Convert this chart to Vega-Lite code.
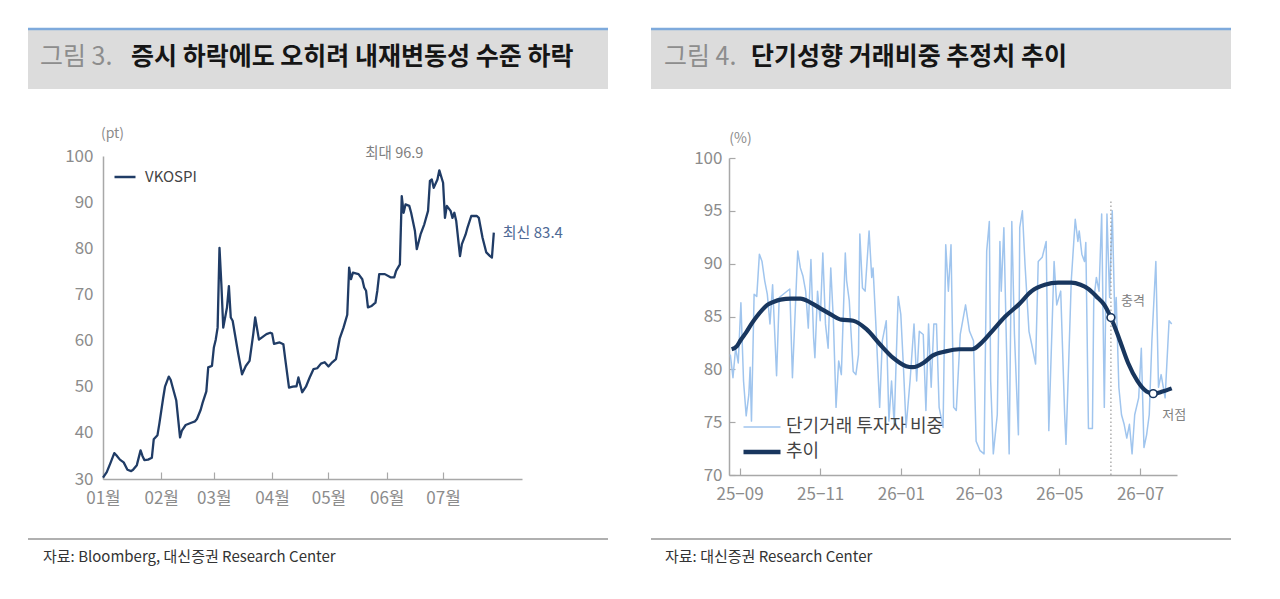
{
  "$schema": "https://vega.github.io/schema/vega-lite/v6.json",
  "background": "white",
  "padding": {"left": 26, "top": 27, "right": 5, "bottom": 5},
  "config": {
    "font": "Noto Sans CJK KR",
    "view": {"stroke": null},
    "axis": {"grid": false},
    "legend": {"padding": 0}
  },
  "datasets": {
    "vkospi": [
      {"d": "2026-01-01", "v": 30.3}, {"d": "2026-01-03", "v": 31.5}, {"d": "2026-01-05", "v": 33.5}, {"d": "2026-01-07", "v": 35.6},
      {"d": "2026-01-08", "v": 35.2}, {"d": "2026-01-10", "v": 34.2}, {"d": "2026-01-12", "v": 33.6}, {"d": "2026-01-14", "v": 32.0},
      {"d": "2026-01-16", "v": 31.7}, {"d": "2026-01-17", "v": 32.0}, {"d": "2026-01-19", "v": 33.0}, {"d": "2026-01-21", "v": 36.2},
      {"d": "2026-01-22", "v": 35.0}, {"d": "2026-01-23", "v": 34.1}, {"d": "2026-01-25", "v": 34.2}, {"d": "2026-01-27", "v": 34.6},
      {"d": "2026-01-28", "v": 38.6}, {"d": "2026-01-30", "v": 39.5}, {"d": "2026-01-31", "v": 42.0}, {"d": "2026-02-02", "v": 47.5},
      {"d": "2026-02-03", "v": 50.0}, {"d": "2026-02-05", "v": 52.2}, {"d": "2026-02-06", "v": 51.5}, {"d": "2026-02-07", "v": 50.0},
      {"d": "2026-02-09", "v": 47.0}, {"d": "2026-02-11", "v": 39.0}, {"d": "2026-02-12", "v": 40.5}, {"d": "2026-02-14", "v": 41.7},
      {"d": "2026-02-17", "v": 42.2}, {"d": "2026-02-19", "v": 42.5}, {"d": "2026-02-20", "v": 43.0}, {"d": "2026-02-22", "v": 45.0},
      {"d": "2026-02-23", "v": 46.5}, {"d": "2026-02-25", "v": 49.0}, {"d": "2026-02-26", "v": 54.2}, {"d": "2026-02-28", "v": 54.5},
      {"d": "2026-03-01", "v": 58.5}, {"d": "2026-03-02", "v": 60.2}, {"d": "2026-03-03", "v": 62.8}, {"d": "2026-03-04", "v": 80.1},
      {"d": "2026-03-05", "v": 72.2}, {"d": "2026-03-06", "v": 62.8}, {"d": "2026-03-08", "v": 67.2}, {"d": "2026-03-09", "v": 71.8},
      {"d": "2026-03-10", "v": 65.0}, {"d": "2026-03-11", "v": 64.3}, {"d": "2026-03-14", "v": 57.1}, {"d": "2026-03-16", "v": 52.7},
      {"d": "2026-03-18", "v": 54.5}, {"d": "2026-03-20", "v": 55.6}, {"d": "2026-03-22", "v": 61.5}, {"d": "2026-03-23", "v": 65.0},
      {"d": "2026-03-25", "v": 60.2}, {"d": "2026-03-27", "v": 60.8}, {"d": "2026-03-29", "v": 61.4}, {"d": "2026-03-31", "v": 61.7},
      {"d": "2026-04-01", "v": 61.5}, {"d": "2026-04-02", "v": 59.3}, {"d": "2026-04-05", "v": 59.6}, {"d": "2026-04-07", "v": 59.2},
      {"d": "2026-04-08", "v": 56.0}, {"d": "2026-04-10", "v": 49.8}, {"d": "2026-04-12", "v": 50.0}, {"d": "2026-04-14", "v": 50.1},
      {"d": "2026-04-15", "v": 52.0}, {"d": "2026-04-17", "v": 48.8}, {"d": "2026-04-19", "v": 50.0}, {"d": "2026-04-21", "v": 52.0},
      {"d": "2026-04-23", "v": 53.8}, {"d": "2026-04-25", "v": 54.0}, {"d": "2026-04-27", "v": 55.0}, {"d": "2026-04-29", "v": 55.3},
      {"d": "2026-05-01", "v": 54.4}, {"d": "2026-05-03", "v": 55.3}, {"d": "2026-05-05", "v": 56.0}, {"d": "2026-05-07", "v": 60.5},
      {"d": "2026-05-09", "v": 62.8}, {"d": "2026-05-11", "v": 65.6}, {"d": "2026-05-12", "v": 75.8}, {"d": "2026-05-13", "v": 73.3},
      {"d": "2026-05-14", "v": 74.7}, {"d": "2026-05-17", "v": 74.4}, {"d": "2026-05-19", "v": 73.3}, {"d": "2026-05-20", "v": 71.5},
      {"d": "2026-05-21", "v": 70.8}, {"d": "2026-05-22", "v": 67.2}, {"d": "2026-05-24", "v": 67.5}, {"d": "2026-05-26", "v": 68.2},
      {"d": "2026-05-27", "v": 70.8}, {"d": "2026-05-28", "v": 74.4}, {"d": "2026-05-31", "v": 74.4}, {"d": "2026-06-03", "v": 73.7},
      {"d": "2026-06-05", "v": 73.7}, {"d": "2026-06-06", "v": 75.1}, {"d": "2026-06-08", "v": 76.5}, {"d": "2026-06-09", "v": 91.3},
      {"d": "2026-06-10", "v": 87.7}, {"d": "2026-06-11", "v": 89.5}, {"d": "2026-06-13", "v": 89.2}, {"d": "2026-06-14", "v": 87.7},
      {"d": "2026-06-16", "v": 83.8}, {"d": "2026-06-17", "v": 79.8}, {"d": "2026-06-19", "v": 83.0}, {"d": "2026-06-21", "v": 85.2},
      {"d": "2026-06-23", "v": 88.1}, {"d": "2026-06-24", "v": 94.6}, {"d": "2026-06-25", "v": 94.9}, {"d": "2026-06-26", "v": 93.1},
      {"d": "2026-06-28", "v": 94.9}, {"d": "2026-06-29", "v": 96.9}, {"d": "2026-07-01", "v": 94.2}, {"d": "2026-07-02", "v": 86.6},
      {"d": "2026-07-03", "v": 89.2}, {"d": "2026-07-05", "v": 88.1}, {"d": "2026-07-06", "v": 86.6}, {"d": "2026-07-07", "v": 87.7},
      {"d": "2026-07-08", "v": 85.9}, {"d": "2026-07-10", "v": 78.3}, {"d": "2026-07-11", "v": 80.9}, {"d": "2026-07-13", "v": 83.0},
      {"d": "2026-07-14", "v": 84.5}, {"d": "2026-07-16", "v": 87.0}, {"d": "2026-07-19", "v": 87.0}, {"d": "2026-07-20", "v": 86.6},
      {"d": "2026-07-22", "v": 82.3}, {"d": "2026-07-24", "v": 79.1}, {"d": "2026-07-26", "v": 78.3}, {"d": "2026-07-27", "v": 78.0},
      {"d": "2026-07-28", "v": 83.4}
    ],
    "ratio": [
      {"d": "2025-08-25", "v": 81.4}, {"d": "2025-08-27", "v": 79.2}, {"d": "2025-08-29", "v": 82.0}, {"d": "2025-08-31", "v": 80.6},
      {"d": "2025-09-02", "v": 86.3}, {"d": "2025-09-04", "v": 78.9}, {"d": "2025-09-06", "v": 75.6}, {"d": "2025-09-08", "v": 77.6},
      {"d": "2025-09-09", "v": 80.2}, {"d": "2025-09-10", "v": 75.1}, {"d": "2025-09-12", "v": 87.1}, {"d": "2025-09-14", "v": 86.9},
      {"d": "2025-09-16", "v": 90.9}, {"d": "2025-09-18", "v": 90.2}, {"d": "2025-09-20", "v": 88.4}, {"d": "2025-09-22", "v": 87.1},
      {"d": "2025-09-24", "v": 84.3}, {"d": "2025-09-26", "v": 88.0}, {"d": "2025-09-29", "v": 79.4}, {"d": "2025-10-01", "v": 86.8},
      {"d": "2025-10-05", "v": 87.2}, {"d": "2025-10-09", "v": 87.6}, {"d": "2025-10-11", "v": 79.2}, {"d": "2025-10-15", "v": 91.2},
      {"d": "2025-10-17", "v": 89.6}, {"d": "2025-10-19", "v": 88.8}, {"d": "2025-10-21", "v": 87.4}, {"d": "2025-10-23", "v": 83.9},
      {"d": "2025-10-25", "v": 90.4}, {"d": "2025-10-27", "v": 83.0}, {"d": "2025-10-28", "v": 81.1}, {"d": "2025-10-30", "v": 87.4},
      {"d": "2025-11-01", "v": 84.6}, {"d": "2025-11-03", "v": 91.0}, {"d": "2025-11-05", "v": 84.3}, {"d": "2025-11-07", "v": 82.0},
      {"d": "2025-11-09", "v": 89.6}, {"d": "2025-11-11", "v": 84.6}, {"d": "2025-11-13", "v": 76.4}, {"d": "2025-11-15", "v": 80.8},
      {"d": "2025-11-17", "v": 79.5}, {"d": "2025-11-20", "v": 91.0}, {"d": "2025-11-21", "v": 88.4}, {"d": "2025-11-23", "v": 86.5},
      {"d": "2025-11-26", "v": 79.8}, {"d": "2025-11-28", "v": 79.5}, {"d": "2025-11-30", "v": 81.4}, {"d": "2025-12-01", "v": 92.8},
      {"d": "2025-12-03", "v": 87.7}, {"d": "2025-12-05", "v": 87.4}, {"d": "2025-12-08", "v": 93.1}, {"d": "2025-12-10", "v": 88.7},
      {"d": "2025-12-11", "v": 89.6}, {"d": "2025-12-13", "v": 84.6}, {"d": "2025-12-16", "v": 76.4}, {"d": "2025-12-18", "v": 82.7},
      {"d": "2025-12-21", "v": 84.6}, {"d": "2025-12-23", "v": 75.1}, {"d": "2025-12-25", "v": 78.9}, {"d": "2025-12-27", "v": 74.8},
      {"d": "2025-12-30", "v": 86.9}, {"d": "2026-01-01", "v": 85.2}, {"d": "2026-01-03", "v": 80.2}, {"d": "2026-01-05", "v": 74.5},
      {"d": "2026-01-08", "v": 78.9}, {"d": "2026-01-11", "v": 84.3}, {"d": "2026-01-13", "v": 78.9}, {"d": "2026-01-15", "v": 83.6},
      {"d": "2026-01-18", "v": 83.3}, {"d": "2026-01-20", "v": 76.1}, {"d": "2026-01-22", "v": 84.3}, {"d": "2026-01-24", "v": 78.3},
      {"d": "2026-01-26", "v": 84.3}, {"d": "2026-01-28", "v": 84.3}, {"d": "2026-01-30", "v": 76.4}, {"d": "2026-02-02", "v": 74.5},
      {"d": "2026-02-04", "v": 91.8}, {"d": "2026-02-06", "v": 87.4}, {"d": "2026-02-08", "v": 91.8}, {"d": "2026-02-10", "v": 76.4},
      {"d": "2026-02-12", "v": 76.1}, {"d": "2026-02-15", "v": 83.3}, {"d": "2026-02-19", "v": 86.1}, {"d": "2026-02-22", "v": 83.6},
      {"d": "2026-02-25", "v": 82.7}, {"d": "2026-02-27", "v": 73.2}, {"d": "2026-03-02", "v": 72.3}, {"d": "2026-03-05", "v": 72.0},
      {"d": "2026-03-07", "v": 91.2}, {"d": "2026-03-09", "v": 94.0}, {"d": "2026-03-10", "v": 78.9}, {"d": "2026-03-12", "v": 72.0},
      {"d": "2026-03-15", "v": 75.7}, {"d": "2026-03-17", "v": 92.1}, {"d": "2026-03-18", "v": 87.4}, {"d": "2026-03-20", "v": 93.4},
      {"d": "2026-03-22", "v": 82.0}, {"d": "2026-03-24", "v": 72.0}, {"d": "2026-03-26", "v": 94.0}, {"d": "2026-03-28", "v": 83.3},
      {"d": "2026-03-31", "v": 73.8}, {"d": "2026-04-01", "v": 93.4}, {"d": "2026-04-03", "v": 95.0}, {"d": "2026-04-05", "v": 89.9},
      {"d": "2026-04-08", "v": 83.6}, {"d": "2026-04-10", "v": 82.4}, {"d": "2026-04-13", "v": 80.5}, {"d": "2026-04-15", "v": 90.2},
      {"d": "2026-04-18", "v": 90.6}, {"d": "2026-04-21", "v": 92.1}, {"d": "2026-04-23", "v": 74.2}, {"d": "2026-04-27", "v": 90.2},
      {"d": "2026-04-29", "v": 86.1}, {"d": "2026-05-02", "v": 87.4}, {"d": "2026-05-05", "v": 75.7}, {"d": "2026-05-06", "v": 72.9},
      {"d": "2026-05-08", "v": 80.5}, {"d": "2026-05-10", "v": 88.4}, {"d": "2026-05-13", "v": 94.2}, {"d": "2026-05-15", "v": 92.1},
      {"d": "2026-05-16", "v": 93.1}, {"d": "2026-05-18", "v": 90.9}, {"d": "2026-05-20", "v": 90.2}, {"d": "2026-05-21", "v": 92.0},
      {"d": "2026-05-23", "v": 74.4}, {"d": "2026-05-26", "v": 74.4}, {"d": "2026-05-27", "v": 86.5}, {"d": "2026-05-29", "v": 88.7},
      {"d": "2026-05-31", "v": 87.4}, {"d": "2026-06-02", "v": 94.7}, {"d": "2026-06-04", "v": 76.4}, {"d": "2026-06-06", "v": 94.7},
      {"d": "2026-06-08", "v": 86.8}, {"d": "2026-06-10", "v": 95.0}, {"d": "2026-06-12", "v": 84.6}, {"d": "2026-06-13", "v": 86.8},
      {"d": "2026-06-15", "v": 78.3}, {"d": "2026-06-17", "v": 75.7}, {"d": "2026-06-19", "v": 74.8}, {"d": "2026-06-21", "v": 73.5},
      {"d": "2026-06-23", "v": 74.8}, {"d": "2026-06-25", "v": 72.0}, {"d": "2026-06-27", "v": 75.7}, {"d": "2026-06-30", "v": 77.3},
      {"d": "2026-07-02", "v": 82.0}, {"d": "2026-07-04", "v": 72.6}, {"d": "2026-07-06", "v": 73.8}, {"d": "2026-07-08", "v": 75.7},
      {"d": "2026-07-10", "v": 82.7}, {"d": "2026-07-13", "v": 90.2}, {"d": "2026-07-15", "v": 78.3}, {"d": "2026-07-17", "v": 79.5},
      {"d": "2026-07-20", "v": 77.3}, {"d": "2026-07-23", "v": 84.6}, {"d": "2026-07-25", "v": 84.3}
    ],
    "trend": [
      {"d": "2025-08-26", "v": 81.9}, {"d": "2025-08-30", "v": 82.2}, {"d": "2025-09-02", "v": 82.8}, {"d": "2025-09-06", "v": 83.5},
      {"d": "2025-09-10", "v": 84.3}, {"d": "2025-09-14", "v": 85.0}, {"d": "2025-09-18", "v": 85.6}, {"d": "2025-09-22", "v": 86.1},
      {"d": "2025-09-27", "v": 86.4}, {"d": "2025-10-02", "v": 86.6}, {"d": "2025-10-10", "v": 86.7}, {"d": "2025-10-17", "v": 86.7},
      {"d": "2025-10-25", "v": 86.3}, {"d": "2025-11-02", "v": 85.7}, {"d": "2025-11-09", "v": 85.2}, {"d": "2025-11-17", "v": 84.7},
      {"d": "2025-11-26", "v": 84.6}, {"d": "2025-12-06", "v": 83.8}, {"d": "2025-12-16", "v": 82.4}, {"d": "2025-12-26", "v": 81.1},
      {"d": "2026-01-05", "v": 80.3}, {"d": "2026-01-10", "v": 80.2}, {"d": "2026-01-18", "v": 80.6}, {"d": "2026-01-25", "v": 81.3},
      {"d": "2026-02-04", "v": 81.7}, {"d": "2026-02-14", "v": 81.9}, {"d": "2026-02-24", "v": 81.9}, {"d": "2026-03-03", "v": 82.5},
      {"d": "2026-03-11", "v": 83.6}, {"d": "2026-03-21", "v": 85.0}, {"d": "2026-03-31", "v": 86.1}, {"d": "2026-04-10", "v": 87.4},
      {"d": "2026-04-20", "v": 88.0}, {"d": "2026-04-30", "v": 88.2}, {"d": "2026-05-10", "v": 88.2}, {"d": "2026-05-17", "v": 88.0},
      {"d": "2026-05-23", "v": 87.6}, {"d": "2026-05-29", "v": 86.9}, {"d": "2026-06-04", "v": 86.1}, {"d": "2026-06-09", "v": 84.9},
      {"d": "2026-06-15", "v": 83.0}, {"d": "2026-06-22", "v": 80.6}, {"d": "2026-06-29", "v": 78.9}, {"d": "2026-07-06", "v": 77.9},
      {"d": "2026-07-11", "v": 77.7}, {"d": "2026-07-18", "v": 77.9}, {"d": "2026-07-25", "v": 78.2}
    ]
  },
  "hconcat": [
    {
      "title": {"text": "증시 하락에도 오히려 내재변동성 수준 하락", "anchor": "start", "frame": "group", "dx": 103, "offset": -42, "fontSize": 25, "fontWeight": "bold", "color": "#151515"},
      "vconcat": [
        {
          "width": 580,
          "height": 60,
          "view": {"fill": "#dcdcdc", "stroke": null},
          "title": {"text": "그림 3.", "anchor": "start", "frame": "group", "dx": 12, "offset": -42, "fontSize": 25, "fontWeight": "normal", "color": "#8d8d8d"},
          "data": {"values": [{}]},
          "mark": {"type": "rule", "color": "#7eaadc", "strokeWidth": 2.5},
          "encoding": {"y": {"datum": 1, "type": "quantitative", "scale": {"domain": [0, 1]}, "axis": null}}
        },
        {
          "width": 580,
          "height": 450,
          "layer": [
            {
              "data": {"name": "vkospi"},
              "mark": {"type": "line", "strokeWidth": 2.3, "strokeJoin": "round"},
              "encoding": {
                "x": {
                  "field": "d", "type": "temporal",
                  "scale": {"type": "utc", "domain": [{"year": 2026, "month": 1, "date": 1, "utc": true}, {"year": 2026, "month": 8, "date": 12, "utc": true}], "range": [75, 494]},
                  "axis": {
                    "title": null, "offset": -60, "format": "%m월",
                    "values": [
                      {"year": 2026, "month": 1, "date": 1, "utc": true}, {"year": 2026, "month": 2, "date": 1, "utc": true},
                      {"year": 2026, "month": 3, "date": 1, "utc": true}, {"year": 2026, "month": 4, "date": 1, "utc": true},
                      {"year": 2026, "month": 5, "date": 1, "utc": true}, {"year": 2026, "month": 6, "date": 1, "utc": true},
                      {"year": 2026, "month": 7, "date": 1, "utc": true}
                    ],
                    "labelFontSize": 17, "labelColor": "#8c8c8c", "labelPadding": 18, "labelFlush": false,
                    "domainColor": "#a8a8a8", "domainWidth": 1.5,
                    "tickColor": "#a8a8a8", "tickSize": -7, "tickWidth": 1.2
                  }
                },
                "y": {
                  "field": "v", "type": "quantitative",
                  "scale": {"domain": [30, 100], "range": [390, 67], "nice": false, "zero": false},
                  "axis": {
                    "offset": -75, "values": [30, 40, 50, 60, 70, 80, 90, 100],
                    "labelFontSize": 17, "labelColor": "#8c8c8c", "labelPadding": 10, "ticks": false,
                    "domainColor": "#a8a8a8", "domainWidth": 1.5,
                    "title": "(pt)", "titleAngle": 0, "titleX": 9, "titleY": 44, "titleAlign": "center", "titleBaseline": "middle",
                    "titleFontSize": 14, "titleFontWeight": "normal", "titleColor": "#8c8c8c"
                  }
                },
                "color": {
                  "datum": "VKOSPI", "type": "nominal",
                  "scale": {"domain": ["VKOSPI"], "range": ["#203c66"]},
                  "legend": {
                    "title": null, "orient": "none", "legendX": 85, "legendY": 136,
                    "symbolType": "stroke", "symbolSize": 441, "symbolStrokeWidth": 2.5,
                    "labelFontSize": 15, "labelColor": "#444444", "labelOffset": 8
                  }
                }
              }
            },
            {
              "data": {"values": [{"d": "2026-06-29", "v": 96.9, "label": "최대 96.9"}]},
              "mark": {"type": "text", "dx": -45, "dy": -16, "fontSize": 14.5, "color": "#808080"},
              "encoding": {
                "x": {"field": "d", "type": "temporal"},
                "y": {"field": "v", "type": "quantitative"},
                "text": {"field": "label"}
              }
            },
            {
              "data": {"values": [{"d": "2026-07-28", "v": 83.4, "label": "최신 83.4"}]},
              "mark": {"type": "text", "align": "left", "dx": 9, "fontSize": 15, "color": "#4f6a96"},
              "encoding": {
                "x": {"field": "d", "type": "temporal"},
                "y": {"field": "v", "type": "quantitative"},
                "text": {"field": "label"}
              }
            }
          ]
        },
        {
          "width": 580,
          "height": 2,
          "title": {"text": "자료: Bloomberg, 대신증권 Research Center", "orient": "bottom", "anchor": "start", "frame": "group", "dx": 15, "offset": 9, "fontSize": 15, "fontWeight": "normal", "color": "#333333"},
          "data": {"values": [{}]},
          "mark": {"type": "rule", "color": "#b0b0b0", "strokeWidth": 2},
          "encoding": {"y": {"datum": 1, "type": "quantitative", "scale": {"domain": [0, 1]}, "axis": null}}
        }
      ],
      "spacing": 0,
      "bounds": "flush"
    },
    {
      "title": {"text": "단기성향 거래비중 추정치 추이", "anchor": "start", "frame": "group", "dx": 100, "offset": -42, "fontSize": 25, "fontWeight": "bold", "color": "#151515"},
      "vconcat": [
        {
          "width": 580,
          "height": 60,
          "view": {"fill": "#dcdcdc", "stroke": null},
          "title": {"text": "그림 4.", "anchor": "start", "frame": "group", "dx": 13, "offset": -42, "fontSize": 25, "fontWeight": "normal", "color": "#8d8d8d"},
          "data": {"values": [{}]},
          "mark": {"type": "rule", "color": "#7eaadc", "strokeWidth": 2.5},
          "encoding": {"y": {"datum": 1, "type": "quantitative", "scale": {"domain": [0, 1]}, "axis": null}}
        },
        {
          "width": 580,
          "height": 450,
          "layer": [
            {
              "data": {"name": "ratio"},
              "mark": {"type": "line", "strokeWidth": 1.5, "strokeJoin": "round"},
              "encoding": {
                "x": {
                  "field": "d", "type": "temporal",
                  "scale": {"type": "utc", "domain": [{"year": 2025, "month": 8, "date": 24, "utc": true}, {"year": 2026, "month": 7, "date": 29, "utc": true}], "range": [78, 526]},
                  "axis": {
                    "title": null, "offset": -64, "format": "%y−%m",
                    "values": [
                      {"year": 2025, "month": 9, "date": 1, "utc": true}, {"year": 2025, "month": 11, "date": 1, "utc": true},
                      {"year": 2026, "month": 1, "date": 1, "utc": true}, {"year": 2026, "month": 3, "date": 1, "utc": true},
                      {"year": 2026, "month": 5, "date": 1, "utc": true}, {"year": 2026, "month": 7, "date": 1, "utc": true}
                    ],
                    "labelFontSize": 17, "labelColor": "#8c8c8c", "labelPadding": 18, "labelFlush": false,
                    "domainColor": "#a8a8a8", "domainWidth": 1.5,
                    "tickColor": "#a8a8a8", "tickSize": -7, "tickWidth": 1.2
                  }
                },
                "y": {
                  "field": "v", "type": "quantitative",
                  "scale": {"domain": [70, 100], "range": [386, 69], "nice": false, "zero": false},
                  "axis": {
                    "offset": -78, "values": [70, 75, 80, 85, 90, 95, 100],
                    "labelFontSize": 17, "labelColor": "#8c8c8c", "labelPadding": 13,
                    "tickColor": "#a8a8a8", "tickSize": -6, "tickWidth": 1.2,
                    "domainColor": "#a8a8a8", "domainWidth": 1.5,
                    "title": "(%)", "titleAngle": 0, "titleX": 11, "titleY": 49, "titleAlign": "center", "titleBaseline": "middle",
                    "titleFontSize": 14, "titleFontWeight": "normal", "titleColor": "#8c8c8c"
                  }
                },
                "color": {
                  "datum": "단기거래 투자자 비중", "type": "nominal",
                  "scale": {"domain": ["단기거래 투자자 비중", "추이"], "range": ["#a0c5ee", "#18365e"]},
                  "legend": {
                    "title": null, "orient": "none", "legendX": 102, "legendY": 389,
                    "symbolType": "stroke", "symbolSize": 1369, "symbolStrokeWidth": 2,
                    "labelFontSize": 18, "labelLimit": 400, "labelColor": "#444444", "labelOffset": 15, "rowPadding": 7,
                    "encode": {"symbols": {"update": {"strokeWidth": {"signal": "datum.value === '추이' ? 4.5 : 1.6"}}}}
                  }
                }
              }
            },
            {
              "data": {"name": "trend"},
              "mark": {"type": "line", "strokeWidth": 4.2, "interpolate": "monotone", "strokeJoin": "round"},
              "encoding": {
                "x": {"field": "d", "type": "temporal"},
                "y": {"field": "v", "type": "quantitative"},
                "color": {"datum": "추이", "type": "nominal"}
              }
            },
            {
              "data": {"values": [{"d": "2026-06-09", "lo": 70, "hi": 96}]},
              "mark": {"type": "rule", "color": "#9a9a9a", "strokeWidth": 1.2, "strokeDash": [1.5, 2.5]},
              "encoding": {
                "x": {"field": "d", "type": "temporal"},
                "y": {"field": "lo", "type": "quantitative"},
                "y2": {"field": "hi"}
              }
            },
            {
              "data": {"values": [{"d": "2026-06-09", "v": 84.9, "label": "충격"}, {"d": "2026-07-11", "v": 77.7, "label": "저점"}]},
              "layer": [
                {
                  "mark": {"type": "point", "filled": true, "fill": "white", "stroke": "#18365e", "strokeWidth": 1.6, "size": 60, "opacity": 1},
                  "encoding": {
                    "x": {"field": "d", "type": "temporal"},
                    "y": {"field": "v", "type": "quantitative"}
                  }
                },
                {
                  "transform": [{"filter": "datum.label === '충격'"}],
                  "mark": {"type": "text", "dx": 22, "dy": -17, "fontSize": 13, "color": "#808080"},
                  "encoding": {
                    "x": {"field": "d", "type": "temporal"},
                    "y": {"field": "v", "type": "quantitative"},
                    "text": {"field": "label"}
                  }
                },
                {
                  "transform": [{"filter": "datum.label === '저점'"}],
                  "mark": {"type": "text", "dx": 21, "dy": 21, "fontSize": 13, "color": "#808080"},
                  "encoding": {
                    "x": {"field": "d", "type": "temporal"},
                    "y": {"field": "v", "type": "quantitative"},
                    "text": {"field": "label"}
                  }
                }
              ]
            }
          ]
        },
        {
          "width": 580,
          "height": 2,
          "title": {"text": "자료: 대신증권 Research Center", "orient": "bottom", "anchor": "start", "frame": "group", "dx": 14, "offset": 9, "fontSize": 15, "fontWeight": "normal", "color": "#333333"},
          "data": {"values": [{}]},
          "mark": {"type": "rule", "color": "#b0b0b0", "strokeWidth": 2},
          "encoding": {"y": {"datum": 1, "type": "quantitative", "scale": {"domain": [0, 1]}, "axis": null}}
        }
      ],
      "spacing": 0,
      "bounds": "flush"
    }
  ],
  "spacing": 39,
  "resolve": {"scale": {"color": "independent"}, "legend": {"color": "independent"}}
}
